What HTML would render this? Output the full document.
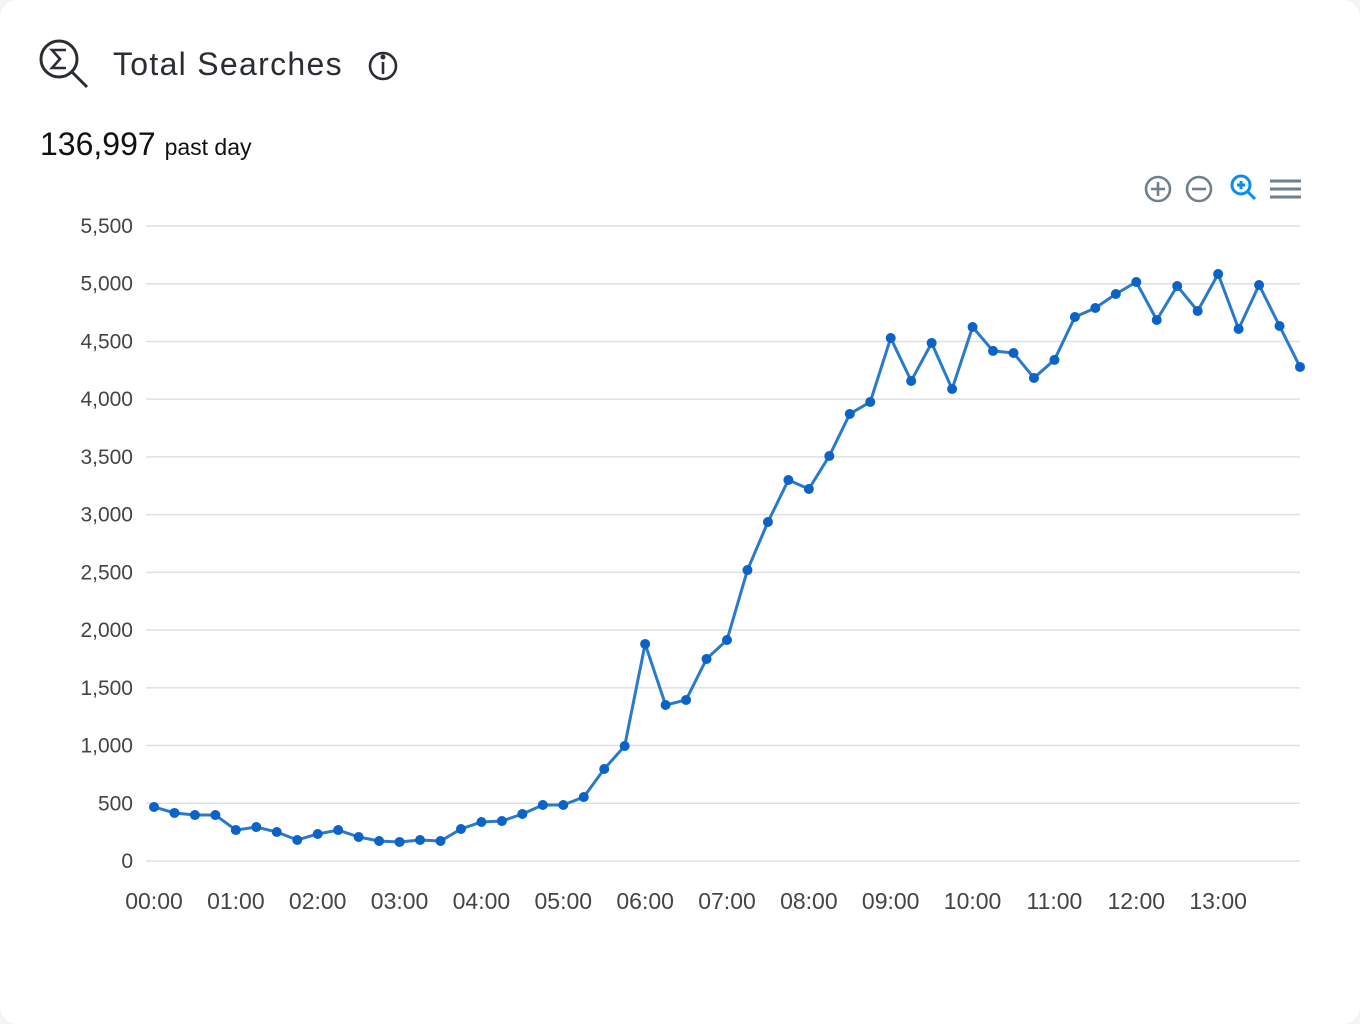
<!DOCTYPE html>
<html><head><meta charset="utf-8">
<style>
html,body{margin:0;padding:0;background:#f3f4f6;}
body{width:1360px;height:1024px;overflow:hidden;font-family:"Liberation Sans",sans-serif;}
#card{position:absolute;left:0;top:0;width:1360px;height:1024px;background:#fff;border-radius:18px;}
#title{position:absolute;left:113px;top:46px;font-size:32px;color:#2a2e33;letter-spacing:1.3px;}
#big{position:absolute;left:40px;top:126px;font-size:32px;color:#111;}
#big span{font-size:23px;}
svg{position:absolute;left:0;top:0;}
</style></head><body>
<div id="card">
<svg width="1360" height="1024">
 <g fill="none" stroke="#2a2e33" stroke-width="3">
  <circle cx="59" cy="59" r="18"/>
  <line x1="72" y1="72" x2="87" y2="87"/>
  <path d="M66 50 H52 L60 59 L52 68 H66" stroke-width="2.6"/>
 </g>
 <g fill="none" stroke="#2a2e33" stroke-width="2.6">
  <circle cx="383" cy="66" r="13"/>
  <line x1="383" y1="62" x2="383" y2="74"/>
  <circle cx="383" cy="57" r="1.2" fill="#2a2e33"/>
 </g>
</svg>
<div id="title">Total Searches</div>
<div id="big">136,997 <span>past day</span></div>
<svg id="chart" width="1360" height="1024"></svg>
</div>
<script>
const categories=[];
for(let i=0;i<57;i++){const h=Math.floor(i/4),m=(i%4)*15;categories.push(String(h).padStart(2,'0')+':'+String(m).padStart(2,'0'));}
const values=[468,416,398,398,268,294,251,182,234,268,208,173,165,182,173,277,338,346,407,485,485,554,797,996,1880,1351,1395,1750,1914,2520,2936,3300,3222,3508,3872,3976,4530,4158,4487,4088,4625,4418,4400,4184,4340,4712,4790,4911,5015,4686,4980,4764,5084,4608,4989,4634,4279];
const yTicks=[0,500,1000,1500,2000,2500,3000,3500,4000,4500,5000,5500];
const xTickLabels=['00:00','01:00','02:00','03:00','04:00','05:00','06:00','07:00','08:00','09:00','10:00','11:00','12:00','13:00'];
const NS='http://www.w3.org/2000/svg';
const svg=document.getElementById('chart');
const x=i=>154+i*(1300-154)/56;
const y=v=>861-v*(861-226)/5500;
function mk(t,a,p){const e=document.createElementNS(NS,t);for(const k in a)e.setAttribute(k,a[k]);(p||svg).appendChild(e);return e;}
yTicks.forEach(v=>{
 const l=mk('line',{x1:146,x2:1300,y1:y(v),y2:y(v),stroke:'#e0e0e0','stroke-width':1.5});
 
 
 const t=mk('text',{x:133,y:y(v)+7,'text-anchor':'end','font-size':21,fill:'#444','font-family':'Liberation Sans, sans-serif'});
 t.textContent=v.toLocaleString('en-US');
 
 
});
xTickLabels.forEach((s,k)=>{
 const t=mk('text',{x:x(k*4),y:909,'text-anchor':'middle','font-size':23,fill:'#444','font-family':'Liberation Sans, sans-serif'});
 t.textContent=s;
 
 
});
const path=mk('polyline',{points:values.map((v,i)=>x(i)+','+y(v)).join(' '),fill:'none',stroke:'#2979cc','stroke-width':3,'stroke-linejoin':'round'});


values.forEach((v,i)=>{
 const c=mk('circle',{cx:x(i),cy:y(v),r:5,fill:'#0b63c8'});
 
 
});
const tb=mk('g',{fill:'none','stroke-width':2.6});


const zi=mk('g',{stroke:'#6e7f8d'},tb);
mk('circle',{cx:1158,cy:189,r:12},zi);mk('path',{d:'M1151 189h14M1158 182v14'},zi);
const zo=mk('g',{stroke:'#6e7f8d'},tb);
mk('circle',{cx:1199,cy:189,r:12},zo);mk('path',{d:'M1192 189h14'},zo);
const zs=mk('g',{stroke:'#0a8cf0','stroke-width':3},tb);
mk('circle',{cx:1241,cy:185,r:9},zs);mk('path',{d:'M1247 191l8 8M1237 185h8M1241 181v8'},zs);
const mn=mk('g',{stroke:'#6e7f8d','stroke-width':3},tb);
mk('path',{d:'M1270 181h31M1270 189h31M1270 197h31'},mn);
</script>
</body></html>
